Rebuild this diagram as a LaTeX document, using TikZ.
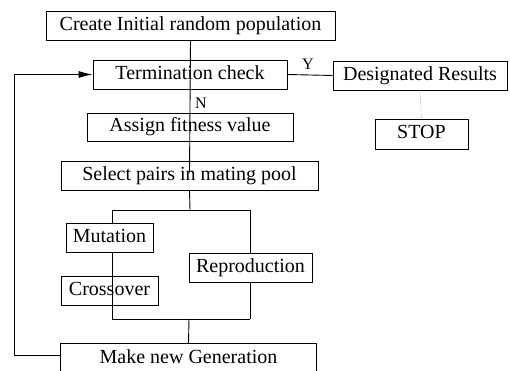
\documentclass[tikz,border=0pt]{standalone}
\usepackage{fontspec}
\setmainfont{Liberation Serif}
\usetikzlibrary{arrows.meta}
\tikzset{
  box/.style={draw, line width=0.9pt, inner sep=0pt, font=\fontsize{20}{24}\selectfont,
    text height=13.5pt, text depth=4pt},
  conn/.style={line width=0.9pt},
  lbl/.style={font=\fontsize{16}{18}\selectfont, inner sep=0pt}
}
\begin{document}
\begin{tikzpicture}[x=1pt,y=-1pt]
\useasboundingbox[fill=white] (0,0) rectangle (510,371);
% nodes
\node[box, minimum width=289pt, minimum height=29pt] (create) at (190.5,25.5) {Create Initial random population};
\node[box, minimum width=194pt, minimum height=29pt] (term) at (190,74.5) {Termination check};
\node[box, minimum width=174pt, minimum height=29pt] (desig) at (420,75.5) {Designated Results};
\node[box, minimum width=93pt, minimum height=30pt] (stop) at (421.5,134) {STOP};
\node[box, minimum width=206pt, minimum height=28pt] (assign) at (190,127) {Assign fitness value};
\node[box, minimum width=257pt, minimum height=29pt] (select) at (189.5,175.5) {Select pairs in mating pool};
\node[box, minimum width=87pt, minimum height=29pt] (mut) at (109.5,237.5) {Mutation};
\node[box, minimum width=97pt, minimum height=29pt] (cross) at (109.5,290.5) {Crossover};
\node[box, minimum width=123pt, minimum height=29pt] (repro) at (250.5,267.5) {Reproduction};
\node[box, minimum width=256pt, minimum height=30pt] (make) at (188.5,358.5) {Make new Generation};
% labels
\node[lbl] (ylab) at (308,64) {Y};
\node[lbl] (nlab) at (201,103) {N};
% coordinates
\coordinate (split) at (190,210);
\coordinate (splitL) at (112,210);
\coordinate (splitR) at (250,210);
\coordinate (joinL) at (112,319);
\coordinate (joinR) at (250,319);
\coordinate (joinM) at (189,319);
\coordinate (fb) at (14,355);
% connectors
\draw[conn] (create.south) -- ([yshift=-12pt]select.north);
\draw[conn] (term.east) -- (desig.west);
\draw[densely dotted, line width=0.5pt, gray] (desig.south) -- (stop.north);
\draw[conn] (select.south) -- (split);
\draw[conn] (splitL) -- (splitR);
\draw[conn] (splitL) -- (splitL |- mut.north);
\draw[conn] (splitL |- mut.south) -- (joinL);
\draw[conn] (splitR) -- (splitR |- repro.north);
\draw[conn] (splitR |- repro.south) -- (joinR);
\draw[conn] (joinL) -- (joinR);
\draw[conn] (joinM) -- (make.north);
\draw[conn, -{Latex[length=14pt,width=7pt]}] (make.west |- fb) -- (fb) |- (term.west);
\end{tikzpicture}
\end{document}
